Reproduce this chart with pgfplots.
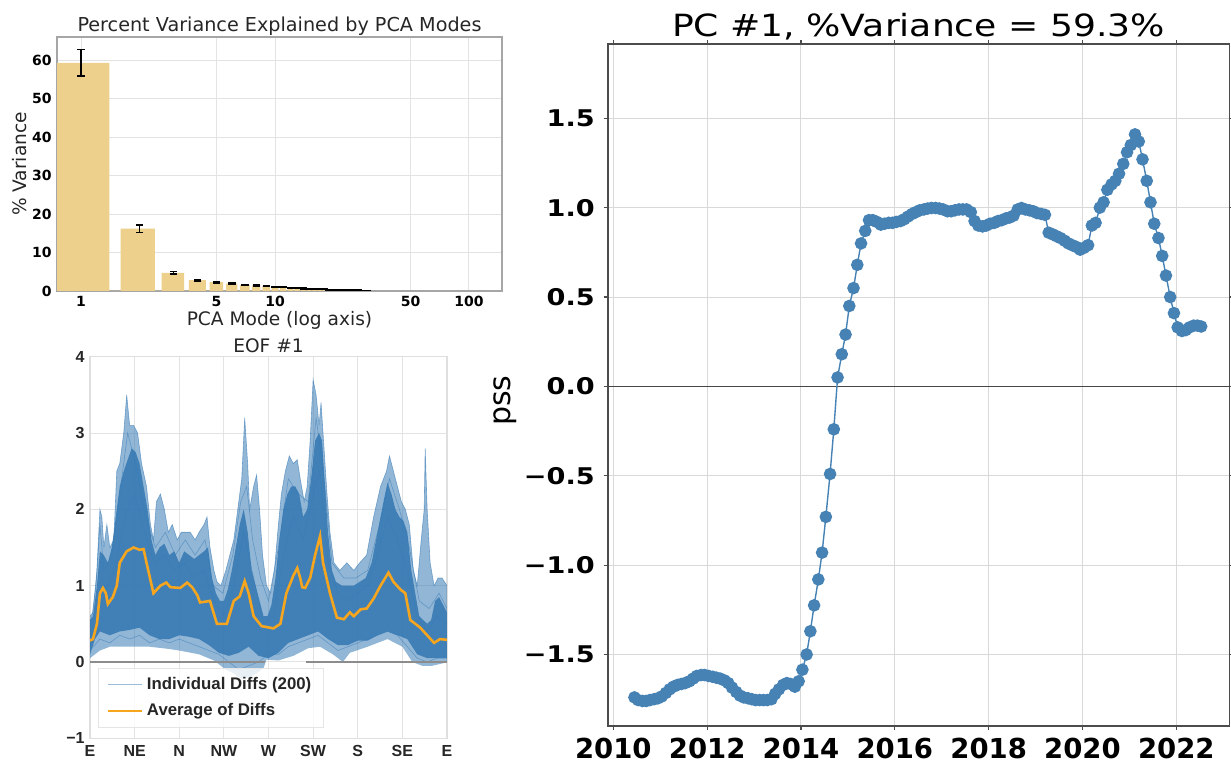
\documentclass[border=0pt]{standalone}
\usepackage{fontspec}
\setmainfont{DejaVu Sans}
\newfontfamily\libsans{Liberation Sans}
\newfontfamily\widesans[FakeStretch=1.18]{DejaVu Sans}
\usepackage{pgfplots}
\pgfplotsset{compat=1.18}
\definecolor{bartan}{RGB}{236,208,140}
\definecolor{steel}{RGB}{70,130,180}
\definecolor{eofblue}{RGB}{55,122,180}
\definecolor{avgorange}{RGB}{245,165,30}
\definecolor{txt}{RGB}{38,38,38}
\begin{document}
\begin{tikzpicture}
\path[use as bounding box] (0,0) rectangle (615.5pt,381.5pt);

%================ top-left: variance bars ================
\begin{axis}[
  at={(28.5pt,236pt)}, anchor=south west,
  scale only axis, width=222.5pt, height=127pt,
  xmode=log, xmin=0.752, xmax=148, ymin=0, ymax=66,
  xtick={1,5,10,50,100}, xticklabels={1,5,10,50,100},
  ytick={0,10,20,30,40,50,60}, yticklabels={0,10,20,30,40,50,60},
  xminorticks=false, yminorticks=false,
  major tick length=0pt,
  grid=major, major grid style={gray!22, line width=0.5pt},
  axis line style={gray!70, line width=0.6pt},
  tick label style={font=\fontsize{7pt}{8pt}\selectfont\bfseries, text=black},
  xticklabel style={inner sep=0pt, anchor=north, yshift=-2.5pt},
  yticklabel style={inner sep=0pt, anchor=east, xshift=-2.5pt},
  title={Percent Variance Explained by PCA Modes},
  title style={at={(axis description cs:0.5,1.02)}, anchor=base, yshift=-6pt, font=\fontsize{9.6pt}{11pt}\selectfont, text=txt},
  xlabel={PCA Mode (log axis)},
  xlabel style={at={(axis description cs:0.5,-0.114)}, anchor=center, font=\fontsize{9.3pt}{11pt}\selectfont, text=txt},
  ylabel={\% Variance},
  ylabel style={at={(axis description cs:-0.084,0.5)}, anchor=center, font=\fontsize{9.3pt}{11pt}\selectfont, text=txt},
]
\addplot[const plot mark left, fill=bartan, draw=none] coordinates {
(0.6,59.3)(1.4,0)(1.6,16.2)(2.4,0)(2.6,4.7)(3.4,0)(3.6,2.8)(4.4,0)(4.6,2.3)(5.4,0)
(5.6,1.9)(6.4,0)(6.6,1.5)(7.4,0)(7.6,1.45)(8.4,0)(8.6,1.25)(9.4,0)(9.6,1.1)(10.4,0)
(10.6,0.95)(11.4,0)(11.6,0.85)(12.4,0)(12.6,0.75)(13.4,0)(13.6,0.65)(14.4,0)(14.6,0.58)(15.4,0)
(15.6,0.5)(16.4,0)(16.6,0.45)(17.4,0)(17.6,0.4)(18.4,0)(18.6,0.35)(19.4,0)(19.6,0.3)(20.4,0)
(20.6,0.27)(21.4,0)(21.6,0.24)(22.4,0)(22.6,0.21)(23.4,0)(23.6,0.19)(24.4,0)(24.6,0.17)(25.4,0)
(25.6,0.15)(26.4,0)(26.6,0.14)(27.4,0)(27.6,0.13)(28.4,0)(28.6,0.12)(29.4,0)(29.6,0.11)(30.4,0)
} \closedcycle;
\addplot[draw=none, mark=none,
  error bars/.cd, y dir=both, y explicit,
  error bar style={draw=black, line width=0.8pt},
  error mark options={draw=black, rotate=90, mark size=1.8pt, line width=0.8pt}]
coordinates {
(1,59.3)+-(0,3.5) (2,16.2)+-(0,1.0) (3,4.7)+-(0,0.35) (4,2.8)+-(0,0.2) (5,2.3)+-(0,0.15)
(6,1.9)+-(0,0.12) (7,1.5)+-(0,0.1) (8,1.45)+-(0,0.1) (9,1.25)+-(0,0.1) (10,1.1)+-(0,0.1)
(11,0.95)+-(0,0.08) (12,0.85)+-(0,0.08) (13,0.75)+-(0,0.08) (14,0.65)+-(0,0.08) (15,0.58)+-(0,0.08)
(16,0.5)+-(0,0.07) (17,0.45)+-(0,0.07) (18,0.4)+-(0,0.06) (19,0.35)+-(0,0.06) (20,0.3)+-(0,0.05)
(21,0.27)+-(0,0.05) (22,0.24)+-(0,0.05) (23,0.21)+-(0,0.05) (24,0.19)+-(0,0.04) (25,0.17)+-(0,0.04)
(26,0.15)+-(0,0.04) (27,0.14)+-(0,0.04) (28,0.13)+-(0,0.03) (29,0.12)+-(0,0.03) (30,0.11)+-(0,0.03)
};
\end{axis}

%================ bottom-left: EOF #1 ================
\begin{axis}[
  at={(45pt,12.35pt)}, anchor=south west,
  scale only axis, width=178.5pt, height=190.8pt,
  xmin=0, xmax=360, ymin=-1, ymax=4,
  xtick={0,45,90,135,180,225,270,315,360}, xticklabels={E,NE,N,NW,W,SW,S,SE,E},
  ytick={-1,0,1,2,3,4}, yticklabels={−1,0,1,2,3,4},
  major tick length=0pt,
  grid=major, major grid style={gray!22, line width=0.5pt},
  axis line style={gray!25, line width=0.6pt},
  tick label style={font=\libsans\fontsize{8pt}{9pt}\selectfont\bfseries, text=txt},
  xticklabel style={inner sep=0pt, anchor=north, yshift=-3.3pt},
  yticklabel style={inner sep=0pt, anchor=east, xshift=-2.5pt},
  title={EOF \#1},
  title style={at={(axis description cs:0.5,1.0097)}, anchor=base, yshift=-6pt, font=\fontsize{9.3pt}{11pt}\selectfont, text=txt},
  legend cell align=left,
  legend style={at={(0.022,0.027)}, anchor=south west, draw=gray!20, fill=white, fill opacity=0.8, text opacity=1,
    font=\libsans\fontsize{8.4pt}{10pt}\selectfont\bfseries, text=txt,
    inner xsep=4pt, inner ysep=2.5pt, row sep=1.5pt},
]
% light region: outer envelope of the 200 individual curves (upper, then lower reversed)
\addplot[fill=eofblue, fill opacity=0.55, draw=none, forget plot] coordinates {
(0,0.6)(3,0.65)(7,1.2)(10,2.0)(12,1.9)(14,1.5)(17,1.8)(20,1.5)(24,1.6)(27,2.5)(30,2.6)(34,3.0)(37,3.5)(40,3.1)(44,3.1)(48,3.0)(52,2.6)(57,2.3)(61,1.8)(64,1.6)(67,2.1)(71,2.2)(75,2.0)(79,1.7)(83,1.8)(88,1.6)(92,1.7)(97,1.7)(101,1.7)(106,1.6)(110,1.7)(115,1.8)(118,1.9)(121,1.5)(125,1.2)(128,1.05)(132,1.0)(137,1.2)(141,1.4)(145,1.6)(149,2.0)(153,2.4)(156,3.2)(159,2.6)(161,2.0)(165,2.3)(168,2.45)(171,2.0)(174,1.4)(178,1.0)(182,0.9)(186,1.2)(190,1.8)(193,2.2)(197,2.5)(201,2.7)(205,2.6)(209,2.65)(212,2.4)(216,2.1)(219,2.3)(222,2.9)(225,3.7)(228,3.5)(231,3.1)(233,3.4)(236,2.8)(239,2.2)(242,1.7)(246,1.3)(252,1.2)(259,1.3)(266,1.2)(272,1.3)(279,1.4)(286,1.9)(293,2.3)(299,2.5)(302,2.7)(306,2.5)(310,2.3)(314,2.1)(318,2.0)(322,1.8)(326,1.2)(330,1.0)(334,1.6)(337,2.0)(338,2.8)(340,2.0)(343,1.3)(347,1.0)(351,1.1)(355,1.1)(360,1.0)
(360,0.0)(355,-0.02)(345,-0.05)(335,-0.05)(325,0.0)(315,0.2)(300,0.3)(280,0.2)(262,0.12)(255,0.0)(245,0.1)(232,0.2)(220,0.18)(205,0.08)(190,0.02)(178,0.03)(175,-0.08)(168,-0.15)(160,-0.2)(152,-0.22)(145,-0.15)(137,-0.1)(125,0.02)(110,0.1)(90,0.15)(80,0.17)(60,0.2)(40,0.2)(20,0.2)(10,0.15)(0,0.05)
} -- cycle;
\addplot[eofblue, line width=0.3pt, opacity=0.6, forget plot] coordinates {
(0,0.6)(3,0.65)(7,1.2)(10,2.0)(12,1.9)(14,1.5)(17,1.8)(20,1.5)(24,1.6)(27,2.5)(30,2.6)(34,3.0)(37,3.5)(40,3.1)(44,3.1)(48,3.0)(52,2.6)(57,2.3)(61,1.8)(64,1.6)(67,2.1)(71,2.2)(75,2.0)(79,1.7)(83,1.8)(88,1.6)(92,1.7)(97,1.7)(101,1.7)(106,1.6)(110,1.7)(115,1.8)(118,1.9)(121,1.5)(125,1.2)(128,1.05)(132,1.0)(137,1.2)(141,1.4)(145,1.6)(149,2.0)(153,2.4)(156,3.2)(159,2.6)(161,2.0)(165,2.3)(168,2.45)(171,2.0)(174,1.4)(178,1.0)(182,0.9)(186,1.2)(190,1.8)(193,2.2)(197,2.5)(201,2.7)(205,2.6)(209,2.65)(212,2.4)(216,2.1)(219,2.3)(222,2.9)(225,3.7)(228,3.5)(231,3.1)(233,3.4)(236,2.8)(239,2.2)(242,1.7)(246,1.3)(252,1.2)(259,1.3)(266,1.2)(272,1.3)(279,1.4)(286,1.9)(293,2.3)(299,2.5)(302,2.7)(306,2.5)(310,2.3)(314,2.1)(318,2.0)(322,1.8)(326,1.2)(330,1.0)(334,1.6)(337,2.0)(338,2.8)(340,2.0)(343,1.3)(347,1.0)(351,1.1)(355,1.1)(360,1.0)
};
% dense core of the curves (upper, then lower reversed)
\addplot[fill=eofblue, fill opacity=0.9, draw=none, forget plot] coordinates {
(0,0.55)(3,0.6)(7,1.0)(10,1.45)(14,1.4)(18,1.3)(22,1.5)(26,1.9)(30,2.3)(34,2.5)(38,2.65)(42,2.8)(46,2.75)(50,2.6)(54,2.3)(58,2.0)(62,1.6)(66,1.4)(70,1.5)(75,1.55)(80,1.4)(85,1.45)(90,1.3)(95,1.45)(100,1.4)(105,1.35)(110,1.4)(115,1.45)(119,1.5)(123,1.1)(127,0.9)(131,0.8)(135,0.8)(139,0.95)(143,1.2)(147,1.5)(151,1.8)(155,2.0)(159,1.7)(163,1.2)(167,1.0)(171,0.8)(175,0.6)(179,0.6)(183,0.75)(187,1.1)(191,1.6)(195,2.0)(199,2.2)(203,2.3)(207,2.3)(211,2.2)(215,1.9)(219,2.0)(223,2.4)(227,2.9)(231,3.0)(234,2.9)(237,2.3)(240,1.7)(244,1.2)(248,1.05)(254,1.0)(260,1.0)(266,1.0)(272,1.05)(278,1.1)(284,1.3)(290,1.7)(296,2.1)(300,2.35)(304,2.2)(308,2.0)(312,1.9)(316,1.85)(320,1.7)(324,1.2)(328,0.9)(332,0.6)(336,0.55)(340,0.5)(344,0.55)(348,0.8)(352,0.85)(356,0.75)(360,0.65)
(360,0.05)(350,0.05)(340,0.05)(330,0.1)(320,0.3)(310,0.35)(300,0.4)(290,0.35)(280,0.28)(270,0.28)(260,0.22)(250,0.22)(240,0.3)(230,0.4)(220,0.35)(210,0.3)(200,0.25)(190,0.12)(180,0.05)(170,0.08)(160,0.2)(150,0.12)(140,0.08)(130,0.12)(120,0.22)(110,0.3)(100,0.33)(90,0.35)(80,0.3)(70,0.3)(60,0.35)(50,0.45)(40,0.42)(30,0.4)(20,0.35)(10,0.4)(5,0.3)(0,0.1)
} -- cycle;
% a few individual curves
\addplot[eofblue, line width=0.3pt, opacity=0.55, forget plot] coordinates {
(0,0.15)(10,0.3)(20,0.25)(30,0.35)(40,0.3)(50,0.35)(60,0.25)(70,0.3)(80,0.25)(90,0.3)(100,0.25)(110,0.2)(120,0.15)(130,0.1)(140,0.0)(150,-0.1)(160,-0.05)(170,0.0)(180,0.1)(190,0.1)(200,0.2)(210,0.25)(220,0.3)(230,0.35)(240,0.25)(250,0.15)(260,0.2)(270,0.25)(280,0.3)(290,0.35)(300,0.4)(310,0.35)(320,0.2)(330,0.05)(340,0.0)(350,0.05)(360,0.05)
};
\addplot[eofblue, line width=0.3pt, opacity=0.55, forget plot] coordinates {
(0,0.3)(8,0.6)(15,0.9)(25,1.2)(35,1.9)(45,2.2)(55,1.7)(65,1.3)(75,1.4)(85,1.2)(95,1.3)(105,1.1)(115,1.2)(125,0.8)(135,0.6)(145,1.0)(155,1.7)(165,1.1)(175,0.5)(185,0.6)(195,1.4)(205,1.9)(215,1.6)(225,2.2)(232,2.5)(240,1.3)(250,0.9)(260,0.8)(270,0.9)(280,1.0)(290,1.4)(300,1.9)(310,1.6)(320,1.2)(330,0.6)(340,0.4)(350,0.6)(360,0.5)
};
\addplot[eofblue, line width=0.3pt, opacity=0.55, forget plot] coordinates {
(0,0.4)(6,1.0)(10,1.8)(14,1.2)(22,1.4)(30,2.2)(38,3.0)(46,2.6)(56,1.9)(66,1.5)(76,1.7)(86,1.4)(96,1.6)(106,1.4)(116,1.6)(124,1.0)(134,0.9)(144,1.4)(152,2.1)(158,2.3)(164,1.6)(172,1.1)(180,0.8)(190,1.5)(200,2.4)(210,2.2)(220,2.1)(228,3.2)(236,2.4)(244,1.3)(256,1.1)(268,1.1)(280,1.2)(292,1.8)(302,2.4)(312,2.0)(322,1.5)(332,0.8)(342,0.7)(352,0.9)(360,0.7)
};
% zero line
\addplot[gray!90, line width=0.8pt, forget plot] coordinates {(0,0)(176.5,0)};
\addplot[gray!90, line width=0.8pt, forget plot] coordinates {(217.8,0)(360,0)};
% average
\addplot[avgorange, line width=1.3pt, forget plot] coordinates {
(0,0.28)(3,0.3)(7,0.5)(10,0.9)(13,0.97)(16,0.9)(18,0.76)(23,0.85)(27,1.0)(30,1.3)(37,1.45)(44,1.5)(50,1.47)(54,1.48)(57,1.3)(64,0.9)(71,1.0)(77,1.04)(81,0.98)(91,0.97)(98,1.04)(103,0.98)(108,0.88)(111,0.78)(121,0.8)(128,0.5)(138,0.5)(145,0.8)(151,0.86)(156,1.06)(160,0.9)(165,0.6)(173,0.47)(185,0.44)(192,0.5)(198,0.9)(205,1.13)(209,1.23)(212,1.1)(214,0.98)(217,0.97)(222,1.1)(227,1.4)(232,1.65)(235,1.3)(242,0.9)(249,0.58)(256,0.56)(262,0.65)(266,0.6)(273,0.69)(279,0.7)(286,0.83)(293,1.0)(301,1.17)(306,1.05)(313,0.95)(318,0.9)(323,0.55)(333,0.45)(340,0.35)(347,0.25)(353,0.3)(360,0.29)
};
\addlegendimage{eofblue, line width=0.5pt, opacity=0.5}
\addlegendentry{Individual Diffs (200)}
\addlegendimage{avgorange, line width=1.3pt}
\addlegendentry{Average of Diffs}
\end{axis}

%================ right: PC #1 time series ================
\begin{axis}[
  at={(303.85pt,18.5pt)}, anchor=south west,
  scale only axis, width=310.8pt, height=340.85pt,
  xmin=2009.88, xmax=2023.13, ymin=-1.9, ymax=1.914,
  xtick={2010,2012,2014,2016,2018,2020,2022}, xticklabels={2010,2012,2014,2016,2018,2020,2022},
  ytick={-1.5,-1,-0.5,0,0.5,1,1.5}, yticklabels={−1.5,−1.0,−0.5,0.0,0.5,1.0,1.5},
  tick align=outside, major tick length=2pt, tick style={gray!60!black, line width=0.6pt},
  grid=major, major grid style={gray!30, line width=0.5pt},
  axis line style={gray!60!black, line width=0.8pt},
  xticklabel style={font=\fontsize{13.75pt}{15pt}\selectfont\bfseries, inner sep=0pt, anchor=north, yshift=-4pt},
  yticklabel style={font=\widesans\fontsize{11.5pt}{13pt}\selectfont\bfseries, inner sep=0pt, anchor=east, xshift=-4.3pt},
  title={PC \#1, \%Variance = 59.3\%},
  title style={at={(axis description cs:0.5,1.011)}, anchor=base, yshift=-6pt, font=\widesans\fontsize{15.3pt}{17pt}\selectfont, text=black},
  ylabel={pss},
  ylabel style={at={(axis description cs:-0.165,0.477)}, anchor=center, font=\fontsize{15pt}{17pt}\selectfont, text=black},
]
\addplot[gray!55!black, line width=0.8pt] coordinates {(2009.88,0)(2023.13,0)};
\addplot[steel, line width=0.7pt, mark=*, mark size=2.8pt, mark options={fill=steel, draw=steel}] coordinates {
(2010.45,-1.74)(2010.53,-1.755)(2010.62,-1.76)(2010.70,-1.76)(2010.78,-1.755)(2010.87,-1.75)(2010.95,-1.745)
(2011.03,-1.735)(2011.12,-1.715)(2011.20,-1.695)(2011.28,-1.68)(2011.37,-1.67)(2011.45,-1.665)(2011.53,-1.66)(2011.62,-1.65)(2011.70,-1.635)(2011.78,-1.62)(2011.87,-1.615)(2011.95,-1.615)
(2012.03,-1.62)(2012.12,-1.625)(2012.20,-1.63)(2012.28,-1.635)(2012.37,-1.645)(2012.45,-1.66)(2012.53,-1.685)(2012.62,-1.71)(2012.70,-1.73)(2012.78,-1.74)(2012.87,-1.745)(2012.95,-1.75)
(2013.03,-1.755)(2013.12,-1.755)(2013.20,-1.755)(2013.28,-1.755)(2013.37,-1.75)(2013.45,-1.72)(2013.53,-1.695)(2013.62,-1.67)(2013.70,-1.66)(2013.78,-1.665)(2013.87,-1.68)(2013.95,-1.65)
(2014.03,-1.585)(2014.12,-1.50)(2014.20,-1.37)(2014.28,-1.225)(2014.37,-1.08)(2014.45,-0.93)(2014.53,-0.73)(2014.62,-0.49)(2014.70,-0.24)(2014.78,0.05)(2014.87,0.18)(2014.95,0.29)
(2015.03,0.45)(2015.12,0.55)(2015.20,0.68)(2015.28,0.80)(2015.37,0.87)(2015.45,0.93)(2015.53,0.93)(2015.62,0.92)(2015.70,0.905)(2015.78,0.91)(2015.87,0.915)(2015.95,0.915)
(2016.03,0.92)(2016.12,0.925)(2016.20,0.935)(2016.28,0.95)(2016.37,0.965)(2016.45,0.975)(2016.53,0.985)(2016.62,0.99)(2016.70,0.995)(2016.78,0.998)(2016.87,0.998)(2016.95,0.995)
(2017.03,0.99)(2017.12,0.98)(2017.20,0.98)(2017.28,0.985)(2017.37,0.99)(2017.45,0.99)(2017.53,0.99)(2017.62,0.975)(2017.70,0.925)(2017.78,0.90)(2017.87,0.895)(2017.95,0.90)
(2018.03,0.91)(2018.12,0.915)(2018.20,0.925)(2018.28,0.93)(2018.37,0.94)(2018.45,0.945)(2018.53,0.955)(2018.62,0.99)(2018.70,0.998)(2018.78,0.99)(2018.87,0.985)(2018.95,0.98)
(2019.03,0.97)(2019.12,0.965)(2019.20,0.96)(2019.28,0.86)(2019.37,0.85)(2019.45,0.84)(2019.53,0.83)(2019.62,0.815)(2019.70,0.80)(2019.78,0.79)(2019.87,0.78)(2019.95,0.765)
(2020.03,0.775)(2020.12,0.79)(2020.20,0.90)(2020.28,0.915)(2020.37,1.00)(2020.45,1.03)(2020.53,1.10)(2020.62,1.13)(2020.70,1.15)(2020.78,1.19)(2020.87,1.245)(2020.95,1.31)
(2021.03,1.35)(2021.12,1.41)(2021.20,1.37)(2021.28,1.27)(2021.37,1.15)(2021.45,1.03)(2021.53,0.91)(2021.62,0.83)(2021.70,0.73)(2021.78,0.62)(2021.87,0.50)(2021.95,0.41)
(2022.03,0.33)(2022.12,0.31)(2022.20,0.315)(2022.28,0.33)(2022.37,0.34)(2022.45,0.34)(2022.53,0.335)
};
\end{axis}
\end{tikzpicture}
\end{document}
